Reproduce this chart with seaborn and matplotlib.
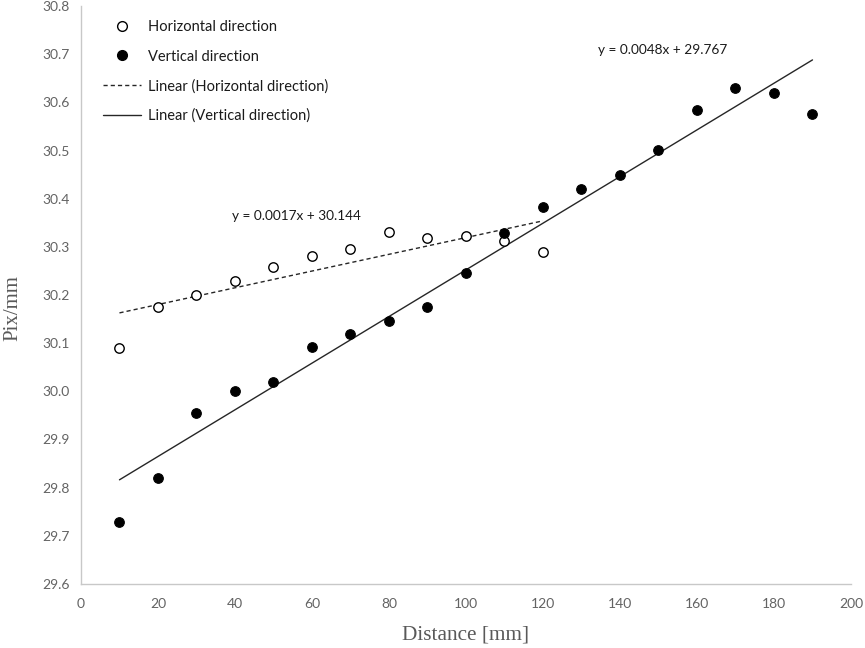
import numpy as np
import pandas as pd
import matplotlib
matplotlib.use("Agg")
import matplotlib.pyplot as plt
import seaborn as sns
from matplotlib.lines import Line2D
from matplotlib.ticker import FormatStrFormatter

# ---- data ----
dist_h = [10, 20, 30, 40, 50, 60, 70, 80, 90, 100, 110, 120]
pix_h = [30.090, 30.175, 30.200, 30.229, 30.258, 30.280, 30.296, 30.330,
         30.318, 30.323, 30.313, 30.289]
dist_v = [10, 20, 30, 40, 50, 60, 70, 80, 90, 100, 110, 120, 130, 140, 150,
          160, 170, 180, 190]
pix_v = [29.728, 29.820, 29.955, 30.000, 30.020, 30.092, 30.119, 30.147,
         30.175, 30.246, 30.329, 30.383, 30.420, 30.449, 30.501, 30.584,
         30.629, 30.619, 30.576]
eq_h = "y = 0.0017x + 30.144"
eq_v = "y = 0.0048x + 29.767"
x_ticks = list(range(0, 201, 20))
y_ticks = [29.6, 29.7, 29.8, 29.9, 30.0, 30.1, 30.2, 30.3, 30.4, 30.5, 30.6, 30.7, 30.8]

df_h = pd.DataFrame({"Distance": dist_h, "Pix": pix_h})
df_v = pd.DataFrame({"Distance": dist_v, "Pix": pix_v})

sns.set_theme(style="white")
plt.rcParams['font.family'] = ['Lato', 'DejaVu Sans']

fig = plt.figure(figsize=(8.65, 6.48), dpi=100)
ax = fig.add_axes([0.0936, 0.0988, 0.8902, 0.8919])

line_col = "#262626"
sns.regplot(data=df_h, x="Distance", y="Pix", scatter=False, ci=None, ax=ax,
            line_kws=dict(color=line_col, lw=1.0, ls=(0, (3, 2.2))))
sns.regplot(data=df_v, x="Distance", y="Pix", scatter=False, ci=None, ax=ax,
            line_kws=dict(color=line_col, lw=1.0, ls="-"))

sns.scatterplot(data=df_h, x="Distance", y="Pix", ax=ax, s=46, marker="o",
                facecolor="white", edgecolor="black", linewidth=1.0, zorder=3)
sns.scatterplot(data=df_v, x="Distance", y="Pix", ax=ax, s=48, marker="o",
                color="black", edgecolor="black", linewidth=0.8, zorder=4)

ax.set_xlim(0, 200)
ax.set_ylim(29.6, 30.8)
ax.set_xticks(x_ticks)
ax.set_yticks(y_ticks)
ax.yaxis.set_major_formatter(FormatStrFormatter("%.1f"))

for s in ["top", "right"]:
    ax.spines[s].set_visible(False)
for s in ["left", "bottom"]:
    ax.spines[s].set_color("#c8c8c8")
    ax.spines[s].set_linewidth(1.0)
ax.tick_params(axis="both", direction="out", length=4, width=1.0,
               color="#c8c8c8", labelcolor="#636363", labelsize=10, pad=4)
ax.tick_params(axis="x", pad=6)

ax.set_xlabel("Distance [mm]", family=["Liberation Serif"], fontsize=15.3,
              color="#595959", labelpad=11)
ax.set_ylabel("Pix/mm", family=["Liberation Serif"], fontsize=15,
              color="#595959")
ax.yaxis.set_label_coords(-0.0766, 0.478)

ax.text(39.3, 30.363, eq_h, fontsize=9.8, color="#1a1a1a", va="center", ha="left")
ax.text(134.2, 30.709, eq_v, fontsize=9.8, color="#1a1a1a", va="center", ha="left")

handles = [
    Line2D([], [], ls="none", marker="o", markersize=7, markerfacecolor="white",
           markeredgecolor="black", markeredgewidth=1.0),
    Line2D([], [], ls="none", marker="o", markersize=7, markerfacecolor="black",
           markeredgecolor="black"),
    Line2D([], [], color=line_col, lw=1.0, ls=(0, (3, 2.2))),
    Line2D([], [], color=line_col, lw=1.0, ls="-"),
]
labels = ["Horizontal direction", "Vertical direction",
          "Linear (Horizontal direction)", "Linear (Vertical direction)"]
leg = ax.legend(handles, labels, loc="upper left", bbox_to_anchor=(0.016, 0.993),
                frameon=False, fontsize=10.5, handlelength=2.55, handletextpad=0.5,
                labelspacing=1.05, borderaxespad=0.3)
for t in leg.get_texts():
    t.set_color("#1a1a1a")

fig.savefig("out.png", dpi=100)
